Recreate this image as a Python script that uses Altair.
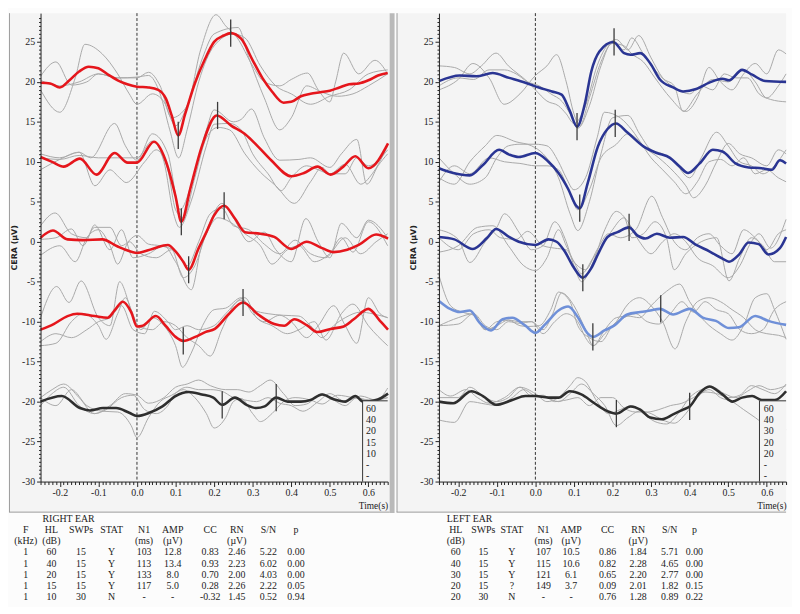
import altair as alt
import pandas as pd

# ---------------- axis domains / layout ----------------
T0, T1 = -0.25, 0.65
V0, V1 = -30.0, 28.6
W, H = 352, 475

# ---------------- RIGHT EAR (left panel) traces: (time s, µV) ----------------
L60_AVG = [(-0.25,19.9),(-0.225,19.8),(-0.2,19.3),(-0.175,20.2),(-0.15,21.3),(-0.125,21.9),(-0.1,21.7),(-0.075,20.9),(-0.05,20.2),(-0.025,19.7),(0.0,19.4),(0.03,19.3),(0.055,19.0),(0.075,17.9),(0.09,15.8),(0.107,13.3),(0.125,16.0),(0.15,19.8),(0.175,22.7),(0.2,25.0),(0.225,25.8),(0.243,26.1),(0.27,25.4),(0.3,22.7),(0.325,20.5),(0.35,18.8),(0.38,17.4),(0.4,17.5),(0.425,18.2),(0.45,18.5),(0.475,18.7),(0.5,18.9),(0.525,19.3),(0.55,19.7),(0.575,19.8),(0.6,20.2),(0.625,20.8),(0.65,21.1)]
L60_G1 = [(-0.25,20.7),(-0.21,22.5),(-0.17,19.6),(-0.13,20.0),(-0.1,21.0),(-0.05,20.5),(0.0,20.5),(0.03,21.2),(0.06,19.5),(0.09,15.5),(0.13,17.0),(0.165,24.0),(0.205,28.4),(0.23,27.0),(0.26,25.5),(0.3,22.0),(0.33,20.0),(0.37,19.5),(0.4,20.3),(0.442,21.1),(0.47,19.0),(0.5,17.5),(0.515,20.0),(0.536,23.6),(0.575,21.0),(0.617,22.7),(0.65,21.0)]
L60_G2 = [(-0.25,19.0),(-0.2,16.2),(-0.16,20.5),(-0.135,24.7),(-0.09,23.5),(-0.05,21.0),(-0.02,18.5),(0.0,17.2),(0.04,18.5),(0.07,17.5),(0.1,14.5),(0.13,17.0),(0.17,23.0),(0.2,26.0),(0.262,26.8),(0.29,23.0),(0.33,18.0),(0.37,14.0),(0.4,15.5),(0.44,19.5),(0.48,18.7),(0.52,18.2),(0.56,18.5),(0.6,19.5),(0.65,21.0)]
L60_G3 = [(-0.25,20.2),(-0.2,19.5),(-0.15,20.0),(-0.1,21.0),(-0.05,20.5),(0.0,20.6),(0.03,20.8),(0.06,18.5),(0.085,14.0),(0.108,10.5),(0.13,14.0),(0.16,20.0),(0.2,24.5),(0.25,26.0),(0.28,25.5),(0.32,22.0),(0.36,19.5),(0.4,18.5),(0.45,17.2),(0.5,18.2),(0.55,19.0),(0.6,21.0),(0.65,21.5)]

L40_AVG = [(-0.25,10.6),(-0.22,10.0),(-0.19,9.4),(-0.148,10.4),(-0.105,8.4),(-0.058,11.1),(-0.024,9.9),(0.0,9.9),(0.044,12.5),(0.074,10.2),(0.1,5.7),(0.115,2.5),(0.138,6.6),(0.168,11.9),(0.207,15.8),(0.245,14.5),(0.279,13.5),(0.314,11.9),(0.348,10.2),(0.4,8.2),(0.433,8.6),(0.468,9.4),(0.502,8.4),(0.535,9.4),(0.566,10.7),(0.6,9.2),(0.651,12.3)]
L40_G1 = [(-0.25,11.0),(-0.2,10.5),(-0.15,11.2),(-0.12,10.5),(-0.058,14.8),(-0.03,12.0),(0.0,10.2),(0.04,13.5),(0.08,11.0),(0.112,4.0),(0.14,7.0),(0.18,14.0),(0.2,16.5),(0.25,15.0),(0.27,15.3),(0.297,16.6),(0.33,13.0),(0.37,10.2),(0.42,10.3),(0.45,10.5),(0.5,9.3),(0.53,11.0),(0.57,12.8),(0.596,7.2),(0.625,9.5),(0.65,11.0)]
L40_G2 = [(-0.25,9.0),(-0.2,10.3),(-0.15,11.2),(-0.109,7.0),(-0.07,9.0),(-0.045,8.0),(-0.028,7.4),(0.02,10.0),(0.05,11.5),(0.08,9.0),(0.1,4.0),(0.12,3.0),(0.15,8.0),(0.18,13.0),(0.21,14.3),(0.24,14.0),(0.28,11.0),(0.32,8.7),(0.36,7.0),(0.408,4.8),(0.45,7.5),(0.48,9.3),(0.5,8.5),(0.54,9.7),(0.58,7.2),(0.61,8.5),(0.65,12.0)]
L40_G3 = [(-0.25,10.5),(-0.2,10.3),(-0.15,10.8),(-0.1,10.5),(-0.05,10.5),(0.0,10.5),(0.04,12.6),(0.07,10.0),(0.095,3.5),(0.11,1.8),(0.14,5.0),(0.18,12.0),(0.2,14.7),(0.24,14.8),(0.27,14.0),(0.3,11.0),(0.34,8.5),(0.374,6.4),(0.4,8.0),(0.44,9.5),(0.47,9.0),(0.5,8.5),(0.54,8.5),(0.57,10.5),(0.6,9.5),(0.65,11.5)]

L20_AVG = [(-0.25,0.5),(-0.218,1.4),(-0.18,0.3),(-0.14,0.2),(-0.09,0.3),(-0.05,-0.6),(-0.03,-1.0),(0.0,-1.4),(0.04,-0.9),(0.08,-0.4),(0.1,-1.2),(0.12,-2.5),(0.134,-3.5),(0.16,-0.8),(0.18,1.2),(0.2,3.3),(0.226,4.5),(0.254,2.9),(0.28,1.2),(0.32,1.0),(0.356,0.6),(0.4,-0.9),(0.44,0.0),(0.48,-0.8),(0.51,-1.3),(0.545,-1.0),(0.575,-0.4),(0.62,0.9),(0.651,0.4)]
L20_G1 = [(-0.25,2.0),(-0.212,3.6),(-0.17,1.0),(-0.13,0.5),(-0.11,2.1),(-0.07,-1.0),(-0.04,1.5),(-0.01,-2.0),(0.03,-1.5),(0.07,-0.5),(0.1,-2.5),(0.141,-6.0),(0.165,-1.0),(0.19,2.5),(0.22,4.8),(0.25,3.0),(0.29,0.0),(0.33,1.2),(0.36,-1.0),(0.4,-2.5),(0.438,2.9),(0.47,0.0),(0.5,-2.0),(0.53,2.3),(0.57,0.5),(0.6,2.7),(0.65,0.5)]
L20_G2 = [(-0.25,-1.7),(-0.2,-0.5),(-0.16,-2.5),(-0.13,0.5),(-0.1,1.5),(-0.07,-0.5),(-0.05,-2.8),(-0.02,0.0),(0.01,-1.5),(0.05,-2.0),(0.09,-1.0),(0.12,-4.5),(0.15,-3.0),(0.18,1.0),(0.21,3.0),(0.24,2.5),(0.28,1.0),(0.32,-0.5),(0.35,-2.8),(0.39,-1.0),(0.42,-0.5),(0.46,-2.5),(0.5,-1.5),(0.54,0.5),(0.58,-1.5),(0.62,0.0),(0.65,1.0)]
L20_G3 = [(-0.25,0.3),(-0.21,0.5),(-0.17,1.6),(-0.14,-0.5),(-0.11,1.8),(-0.07,1.8),(-0.04,-0.5),(0.0,0.8),(0.03,-0.3),(0.06,-0.5),(0.1,-1.2),(0.13,-3.0),(0.16,0.0),(0.19,3.5),(0.22,4.2),(0.25,2.0),(0.29,1.5),(0.33,-0.3),(0.37,-1.5),(0.41,0.2),(0.45,-1.5),(0.49,-2.0),(0.53,0.5),(0.56,-1.3),(0.6,2.5),(0.65,-0.5)]

L15_AVG = [(-0.25,-11.0),(-0.216,-10.3),(-0.18,-9.3),(-0.155,-9.0),(-0.11,-9.3),(-0.076,-9.5),(-0.058,-8.6),(-0.037,-7.5),(-0.015,-8.8),(0.0,-10.6),(0.015,-10.5),(0.049,-9.3),(0.074,-10.5),(0.1,-11.9),(0.12,-12.4),(0.151,-11.9),(0.177,-11.3),(0.202,-10.9),(0.237,-9.1),(0.275,-7.6),(0.314,-9.1),(0.356,-10.3),(0.382,-10.5),(0.408,-9.7),(0.442,-10.5),(0.468,-11.3),(0.502,-10.9),(0.536,-10.6),(0.562,-9.7),(0.6,-8.4),(0.63,-9.9),(0.651,-11.0)]
L15_G1 = [(-0.25,-9.5),(-0.208,-5.6),(-0.176,-7.6),(-0.145,-4.9),(-0.1,-9.5),(-0.07,-10.5),(-0.045,-5.0),(-0.015,-8.5),(0.01,-11.0),(0.04,-9.5),(0.07,-10.5),(0.1,-13.0),(0.118,-15.7),(0.14,-14.0),(0.17,-10.5),(0.2,-8.5),(0.23,-8.3),(0.27,-7.0),(0.3,-9.0),(0.33,-10.0),(0.37,-9.2),(0.4,-10.0),(0.44,-12.0),(0.47,-10.5),(0.51,-8.0),(0.54,-10.5),(0.57,-12.7),(0.6,-7.0),(0.63,-9.0),(0.65,-9.5)]
L15_G2 = [(-0.25,-13.0),(-0.21,-12.7),(-0.17,-10.0),(-0.14,-9.0),(-0.1,-10.5),(-0.08,-12.2),(-0.05,-9.0),(-0.03,-7.0),(0.0,-10.5),(0.04,-11.0),(0.07,-10.0),(0.1,-10.5),(0.13,-12.0),(0.16,-13.0),(0.19,-14.3),(0.22,-11.0),(0.25,-8.0),(0.28,-7.0),(0.31,-9.5),(0.35,-10.5),(0.39,-11.5),(0.42,-11.0),(0.46,-10.0),(0.49,-12.3),(0.53,-9.0),(0.56,-7.8),(0.6,-10.5),(0.65,-13.0)]
L15_G3 = [(-0.25,-12.5),(-0.21,-11.5),(-0.17,-12.0),(-0.13,-11.0),(-0.1,-10.0),(-0.07,-9.5),(-0.04,-8.0),(-0.01,-11.0),(0.02,-11.5),(0.045,-8.7),(0.08,-10.0),(0.1,-11.0),(0.13,-10.5),(0.16,-11.0),(0.2,-10.5),(0.23,-9.0),(0.27,-7.3),(0.3,-8.5),(0.34,-9.0),(0.38,-9.2),(0.42,-9.3),(0.45,-10.5),(0.48,-12.0),(0.51,-10.5),(0.54,-9.5),(0.58,-8.8),(0.61,-9.0),(0.65,-9.5)]

L10_AVG = [(-0.25,-20.0),(-0.195,-19.3),(-0.148,-20.8),(-0.122,-21.1),(-0.088,-20.8),(-0.054,-20.8),(-0.02,-21.4),(0.0,-21.8),(0.032,-21.4),(0.066,-20.6),(0.1,-19.3),(0.134,-18.8),(0.168,-19.1),(0.198,-19.5),(0.221,-20.4),(0.254,-19.5),(0.284,-20.4),(0.309,-20.8),(0.331,-20.6),(0.361,-19.5),(0.391,-20.0),(0.425,-20.0),(0.45,-19.8),(0.48,-19.1),(0.51,-19.7),(0.54,-20.0),(0.566,-19.3),(0.587,-20.0),(0.621,-19.8),(0.651,-19.0)]
L10_G1 = [(-0.25,-19.5),(-0.22,-18.5),(-0.19,-17.8),(-0.15,-19.5),(-0.11,-21.5),(-0.07,-20.5),(-0.03,-19.0),(0.0,-19.2),(0.03,-20.2),(0.07,-19.5),(0.1,-18.2),(0.13,-17.8),(0.16,-17.3),(0.19,-18.0),(0.23,-18.5),(0.26,-18.5),(0.29,-18.8),(0.32,-18.0),(0.345,-17.3),(0.38,-19.0),(0.41,-20.5),(0.44,-20.3),(0.48,-19.0),(0.51,-19.8),(0.54,-20.5),(0.57,-19.5),(0.6,-19.8),(0.63,-19.5),(0.65,-18.3)]
L10_G2 = [(-0.25,-19.5),(-0.21,-20.5),(-0.17,-18.5),(-0.13,-20.5),(-0.09,-21.2),(-0.05,-21.3),(-0.015,-23.0),(0.0,-24.5),(0.03,-22.0),(0.06,-20.0),(0.09,-19.2),(0.12,-18.5),(0.15,-19.5),(0.18,-21.5),(0.2,-23.3),(0.23,-22.0),(0.25,-20.0),(0.27,-19.6),(0.3,-21.5),(0.32,-22.5),(0.35,-21.5),(0.38,-20.0),(0.41,-19.5),(0.45,-19.8),(0.48,-20.3),(0.52,-19.2),(0.56,-19.5),(0.6,-19.8),(0.65,-19.5)]
L10_G3 = [(-0.25,-20.5),(-0.22,-19.0),(-0.19,-18.2),(-0.15,-20.5),(-0.11,-21.5),(-0.08,-21.0),(-0.04,-19.5),(-0.01,-19.2),(0.02,-21.0),(0.05,-21.5),(0.08,-20.5),(0.1,-19.0),(0.13,-18.2),(0.16,-18.5),(0.19,-18.5),(0.22,-18.7),(0.25,-19.5),(0.28,-19.8),(0.31,-20.0),(0.34,-19.5),(0.37,-20.2),(0.4,-20.5),(0.43,-21.2),(0.47,-20.0),(0.5,-19.0),(0.54,-20.0),(0.58,-19.3),(0.62,-19.8),(0.65,-19.5)]

# ---------------- LEFT EAR (right panel) traces ----------------
R60_AVG = [(-0.25,20.1),(-0.196,20.8),(-0.153,20.7),(-0.111,21.1),(-0.068,20.5),(-0.026,19.9),(0.009,19.3),(0.043,18.8),(0.068,18.4),(0.089,16.4),(0.108,14.4),(0.128,17.2),(0.145,21.3),(0.166,23.8),(0.202,25.0),(0.23,23.6),(0.247,23.4),(0.272,23.6),(0.298,22.3),(0.323,20.3),(0.357,19.3),(0.383,18.8),(0.417,19.1),(0.451,19.9),(0.485,20.4),(0.502,20.2),(0.536,21.5),(0.562,20.9),(0.596,20.1),(0.65,20.0)]
R60_G1 = [(-0.25,22.0),(-0.21,21.8),(-0.17,21.0),(-0.14,22.0),(-0.102,23.6),(-0.07,22.0),(-0.02,20.0),(0.0,19.0),(0.03,17.6),(0.06,17.0),(0.08,16.0),(0.1,14.8),(0.13,17.0),(0.16,22.0),(0.19,24.8),(0.21,25.3),(0.24,24.0),(0.268,25.8),(0.3,23.0),(0.33,20.5),(0.36,19.5),(0.383,16.3),(0.42,18.5),(0.46,20.3),(0.5,20.0),(0.54,21.5),(0.57,20.0),(0.6,18.0),(0.63,19.5),(0.65,21.0)]
R60_G2 = [(-0.25,19.0),(-0.2,20.3),(-0.162,22.3),(-0.12,20.5),(-0.081,17.2),(-0.04,18.5),(0.0,20.8),(0.03,22.0),(0.055,23.4),(0.08,20.0),(0.1,16.0),(0.115,14.5),(0.14,18.0),(0.17,22.5),(0.2,24.8),(0.23,24.5),(0.25,23.5),(0.28,22.5),(0.31,20.5),(0.35,18.0),(0.39,16.3),(0.42,18.0),(0.45,21.8),(0.48,20.0),(0.51,19.0),(0.54,21.0),(0.57,22.3),(0.6,21.0),(0.63,24.0),(0.65,23.5)]
R60_G3 = [(-0.25,19.5),(-0.2,20.5),(-0.16,20.3),(-0.12,21.5),(-0.08,21.5),(-0.05,21.0),(-0.02,20.0),(0.01,19.5),(0.04,18.5),(0.07,17.5),(0.09,16.0),(0.11,14.2),(0.14,17.0),(0.17,22.0),(0.2,25.0),(0.23,24.0),(0.25,25.5),(0.28,23.5),(0.31,21.5),(0.34,20.0),(0.37,19.0),(0.4,18.5),(0.43,19.5),(0.46,19.0),(0.49,21.0),(0.52,20.5),(0.55,20.5),(0.58,18.5),(0.61,17.8),(0.65,17.5)]

R40_AVG = [(-0.25,9.2),(-0.213,8.6),(-0.17,8.3),(-0.136,9.6),(-0.094,11.5),(-0.068,10.9),(-0.043,10.6),(0.0,11.1),(0.034,10.0),(0.06,8.6),(0.085,6.6),(0.106,4.5),(0.115,4.2),(0.136,7.4),(0.162,11.9),(0.187,14.1),(0.209,14.8),(0.238,13.7),(0.281,11.9),(0.315,11.1),(0.349,10.5),(0.374,9.4),(0.396,8.6),(0.426,9.8),(0.46,11.5),(0.485,11.3),(0.519,9.8),(0.553,9.3),(0.587,9.2),(0.613,9.0),(0.634,10.2),(0.65,9.8)]
R40_G1 = [(-0.25,10.5),(-0.21,8.5),(-0.17,7.2),(-0.13,8.0),(-0.1,10.5),(-0.07,12.0),(-0.04,12.2),(0.0,12.2),(0.03,12.0),(0.06,10.0),(0.08,8.0),(0.1,6.5),(0.13,8.0),(0.16,13.0),(0.179,16.2),(0.22,15.5),(0.25,14.0),(0.28,12.0),(0.32,10.5),(0.36,8.7),(0.39,7.0),(0.41,5.5),(0.44,7.0),(0.47,10.0),(0.5,12.3),(0.53,11.0),(0.56,10.5),(0.6,9.5),(0.63,11.5),(0.65,11.0)]
R40_G2 = [(-0.25,8.0),(-0.21,7.2),(-0.17,10.0),(-0.13,12.0),(-0.1,13.3),(-0.05,12.5),(-0.01,12.0),(0.02,11.0),(0.06,8.0),(0.09,3.5),(0.11,1.4),(0.14,5.0),(0.17,11.0),(0.2,15.5),(0.24,15.8),(0.27,13.5),(0.3,11.5),(0.33,11.0),(0.36,10.0),(0.4,8.0),(0.43,10.5),(0.47,13.7),(0.5,12.0),(0.53,10.0),(0.56,9.5),(0.59,8.5),(0.62,9.5),(0.65,11.5)]
R40_G3 = [(-0.25,7.5),(-0.21,9.5),(-0.17,8.5),(-0.12,10.5),(-0.08,10.0),(-0.04,9.8),(0.0,9.5),(0.03,9.5),(0.06,9.0),(0.09,6.0),(0.11,4.0),(0.14,6.5),(0.17,10.5),(0.21,12.2),(0.24,13.5),(0.27,12.5),(0.3,10.5),(0.33,9.0),(0.36,7.5),(0.39,6.0),(0.42,7.5),(0.45,10.0),(0.48,10.3),(0.51,9.5),(0.54,10.5),(0.57,8.5),(0.6,9.0),(0.63,8.0),(0.65,7.5)]

R30_AVG = [(-0.25,0.6),(-0.21,0.3),(-0.162,-0.9),(-0.125,0.5),(-0.102,1.6),(-0.068,0.6),(-0.043,0.0),(0.0,-0.4),(0.034,0.3),(0.055,0.0),(0.076,-1.2),(0.098,-3.1),(0.123,-4.5),(0.145,-3.3),(0.162,-1.6),(0.187,0.6),(0.213,1.2),(0.243,1.8),(0.264,0.8),(0.285,0.4),(0.315,1.0),(0.349,0.5),(0.383,0.6),(0.417,-0.4),(0.451,-1.2),(0.485,-2.1),(0.502,-2.5),(0.528,-1.6),(0.553,-0.1),(0.579,-0.3),(0.604,-1.6),(0.634,-0.8),(0.65,0.6)]
R30_G1 = [(-0.25,1.5),(-0.2,0.3),(-0.17,-2.6),(-0.13,0.0),(-0.1,1.8),(-0.08,3.5),(-0.04,1.0),(-0.01,-1.0),(0.02,-0.5),(0.05,2.5),(0.08,0.0),(0.1,-3.0),(0.12,-5.0),(0.15,-2.5),(0.18,1.5),(0.21,3.8),(0.24,2.5),(0.27,0.0),(0.3,-1.5),(0.33,0.0),(0.36,1.0),(0.39,0.0),(0.42,-2.0),(0.46,-3.0),(0.5,-4.5),(0.53,-3.0),(0.56,0.0),(0.58,1.0),(0.61,-0.8),(0.65,2.8)]
R30_G2 = [(-0.25,-1.3),(-0.2,-0.5),(-0.15,1.8),(-0.11,2.0),(-0.07,-0.5),(-0.03,-3.0),(0.0,-3.6),(0.03,-2.0),(0.06,1.5),(0.08,-0.5),(0.1,-2.5),(0.12,-4.0),(0.15,-2.0),(0.18,0.0),(0.2,1.5),(0.23,3.0),(0.25,0.5),(0.28,1.0),(0.31,2.5),(0.34,0.5),(0.36,-3.5),(0.39,-1.5),(0.43,0.0),(0.47,0.5),(0.502,-4.9),(0.53,-2.0),(0.56,0.5),(0.59,-0.5),(0.62,-2.5),(0.65,-2.5)]
R30_G3 = [(-0.25,0.5),(-0.2,-1.0),(-0.16,1.0),(-0.12,1.5),(-0.09,0.5),(-0.05,0.3),(-0.02,1.3),(0.02,-0.5),(0.05,-0.8),(0.08,-1.0),(0.1,-2.5),(0.13,-3.5),(0.16,-1.0),(0.19,1.0),(0.22,0.5),(0.26,1.5),(0.302,5.7),(0.33,3.0),(0.36,0.0),(0.39,-1.0),(0.42,0.5),(0.45,1.0),(0.48,-0.5),(0.51,-1.5),(0.54,1.5),(0.57,0.5),(0.6,-1.0),(0.63,1.0),(0.65,1.5)]

R20_AVG = [(-0.25,-7.4),(-0.221,-8.4),(-0.196,-8.8),(-0.17,-8.6),(-0.145,-10.1),(-0.115,-11.1),(-0.085,-9.7),(-0.06,-9.5),(-0.026,-10.5),(0.0,-11.4),(0.026,-10.3),(0.06,-8.6),(0.085,-8.1),(0.111,-9.5),(0.136,-11.5),(0.149,-11.9),(0.179,-11.1),(0.204,-10.5),(0.238,-9.1),(0.272,-8.8),(0.298,-8.6),(0.323,-8.4),(0.357,-9.1),(0.4,-8.4),(0.434,-9.5),(0.468,-9.9),(0.502,-10.8),(0.528,-10.7),(0.57,-9.3),(0.604,-9.9),(0.65,-10.4)]
R20_G1 = [(-0.25,-4.2),(-0.22,-8.0),(-0.19,-8.8),(-0.16,-9.2),(-0.13,-11.0),(-0.1,-10.5),(-0.07,-9.8),(-0.04,-10.0),(-0.01,-10.0),(0.02,-11.0),(0.045,-9.0),(0.068,-6.4),(0.1,-8.0),(0.13,-11.0),(0.15,-13.0),(0.18,-11.5),(0.21,-10.0),(0.24,-7.8),(0.27,-7.0),(0.3,-8.0),(0.33,-10.0),(0.362,-13.4),(0.39,-10.0),(0.42,-7.5),(0.45,-7.0),(0.48,-7.5),(0.51,-8.5),(0.54,-9.5),(0.57,-11.0),(0.6,-11.5),(0.63,-11.7),(0.65,-12.0)]
R20_G2 = [(-0.25,-10.5),(-0.2,-10.3),(-0.16,-9.0),(-0.13,-10.5),(-0.1,-11.0),(-0.07,-10.0),(-0.04,-10.2),(-0.01,-10.0),(0.02,-11.5),(0.05,-10.0),(0.08,-9.0),(0.11,-10.0),(0.13,-12.0),(0.15,-13.0),(0.18,-11.0),(0.21,-9.5),(0.24,-9.3),(0.27,-9.5),(0.3,-8.0),(0.34,-6.2),(0.374,-5.3),(0.4,-7.5),(0.44,-10.0),(0.48,-11.5),(0.51,-12.3),(0.54,-10.5),(0.57,-7.0),(0.6,-6.5),(0.62,-8.5),(0.65,-12.2)]
R20_G3 = [(-0.25,-10.5),(-0.2,-9.5),(-0.16,-9.0),(-0.13,-11.0),(-0.1,-10.0),(-0.07,-9.8),(-0.04,-10.5),(-0.02,-10.6),(0.01,-10.5),(0.04,-8.5),(0.06,-6.3),(0.09,-7.5),(0.11,-10.5),(0.14,-12.0),(0.17,-12.5),(0.2,-10.5),(0.23,-9.5),(0.26,-9.0),(0.29,-10.0),(0.32,-10.3),(0.35,-9.0),(0.38,-7.5),(0.41,-8.8),(0.44,-7.5),(0.47,-8.5),(0.5,-9.0),(0.53,-11.0),(0.56,-11.5),(0.59,-11.0),(0.62,-8.5),(0.65,-7.5)]

R20N_AVG = [(-0.25,-20.0),(-0.213,-20.2),(-0.166,-18.7),(-0.136,-19.3),(-0.102,-20.4),(-0.06,-19.8),(-0.026,-19.3),(0.0,-19.3),(0.034,-19.5),(0.06,-19.5),(0.089,-18.7),(0.119,-19.1),(0.153,-20.2),(0.187,-21.2),(0.21,-21.5),(0.247,-20.6),(0.272,-21.0),(0.298,-22.0),(0.328,-22.2),(0.357,-21.6),(0.383,-21.0),(0.4,-20.6),(0.426,-18.9),(0.451,-18.1),(0.485,-19.1),(0.511,-20.0),(0.536,-19.5),(0.562,-19.3),(0.587,-19.8),(0.621,-19.8),(0.65,-18.7)]
R20N_G1 = [(-0.25,-22.3),(-0.21,-22.6),(-0.17,-20.0),(-0.13,-20.3),(-0.1,-20.5),(-0.06,-19.5),(-0.03,-18.5),(0.0,-19.3),(0.03,-19.5),(0.06,-20.0),(0.09,-19.0),(0.12,-17.8),(0.15,-19.0),(0.18,-20.5),(0.21,-23.0),(0.24,-22.0),(0.27,-21.2),(0.3,-21.5),(0.33,-22.3),(0.36,-22.7),(0.39,-21.5),(0.42,-19.5),(0.45,-18.5),(0.48,-19.5),(0.51,-20.0),(0.54,-21.0),(0.57,-22.0),(0.6,-23.0),(0.65,-23.5)]
R20N_G2 = [(-0.25,-18.5),(-0.22,-19.3),(-0.18,-18.5),(-0.15,-19.5),(-0.12,-20.2),(-0.08,-19.5),(-0.04,-18.2),(0.0,-19.0),(0.03,-20.0),(0.06,-19.5),(0.09,-18.0),(0.11,-17.0),(0.13,-17.5),(0.16,-20.0),(0.19,-21.5),(0.22,-21.0),(0.25,-20.5),(0.28,-21.5),(0.31,-22.5),(0.34,-22.8),(0.37,-21.5),(0.4,-19.5),(0.43,-18.5),(0.46,-18.2),(0.49,-19.0),(0.52,-19.5),(0.55,-18.7),(0.58,-18.0),(0.61,-18.5),(0.65,-18.0)]
R20N_G3 = [(-0.25,-19.5),(-0.2,-19.5),(-0.17,-18.2),(-0.13,-19.5),(-0.1,-20.0),(-0.07,-19.5),(-0.04,-18.2),(-0.01,-19.3),(0.02,-19.2),(0.05,-20.0),(0.08,-19.8),(0.11,-19.5),(0.14,-20.5),(0.17,-19.5),(0.2,-19.5),(0.23,-20.8),(0.26,-21.3),(0.29,-21.3),(0.32,-21.0),(0.35,-20.5),(0.38,-20.2),(0.41,-19.5),(0.44,-18.8),(0.47,-19.0),(0.5,-19.5),(0.53,-19.2),(0.56,-18.0),(0.59,-18.5),(0.62,-19.0),(0.65,-17.8)]

# peak markers (time, µV)
L_MARKS = [(0.107,13.3),(0.243,26.1),(0.115,2.5),(0.209,15.8),(0.134,-3.5),(0.226,4.5),(0.12,-12.4),(0.275,-7.6),(0.221,-20.4),(0.361,-19.5)]
R_MARKS = [(0.108,14.4),(0.204,25.0),(0.115,4.2),(0.207,14.8),(0.123,-4.5),(0.243,1.8),(0.149,-11.9),(0.325,-8.4),(0.21,-21.5),(0.4,-20.6)]

# ---------------- tables ----------------
HEAD1 = ["F", "HL", "SWPs", "STAT", "N1", "AMP", "CC", "RN", "S/N", "p"]
HEAD2 = ["(kHz)", "(dB)", "", "", "(ms)", "(\u00b5V)", "", "(\u00b5V)", "", ""]

R_F = ["1", "1", "1", "1", "1"]
R_HL = ["60", "40", "20", "15", "10"]
R_SWPS = ["15", "15", "15", "15", "30"]
R_STAT = ["Y", "Y", "Y", "Y", "N"]
R_N1 = ["103", "113", "133", "117", "-"]
R_AMP = ["12.8", "13.4", "8.0", "5.0", "-"]
R_CC = ["0.83", "0.93", "0.70", "0.28", "-0.32"]
R_RN = ["2.46", "2.23", "2.00", "2.26", "1.45"]
R_SN = ["5.22", "6.02", "4.03", "2.22", "0.52"]
R_P = ["0.00", "0.00", "0.00", "0.05", "0.94"]

L_HL = ["60", "40", "30", "20", "20"]
L_SWPS = ["15", "15", "15", "15", "30"]
L_STAT = ["Y", "Y", "Y", "?", "N"]
L_N1 = ["107", "115", "121", "149", "-"]
L_AMP = ["10.5", "10.6", "6.1", "3.7", "-"]
L_CC = ["0.86", "0.82", "0.65", "0.09", "0.76"]
L_RN = ["1.84", "2.28", "2.20", "2.01", "1.28"]
L_SN = ["5.71", "4.65", "2.77", "1.82", "0.89"]
L_P = ["0.00", "0.00", "0.00", "0.15", "0.22"]

# ---------------- styling / layout config ----------------
RED = "#e5161c"
DBLUE = "#2a3593"
LBLUE = "#6f90d8"
BLACK = "#2e2e2e"
GRAY = "#a9a9a9"
PANEL_BG = "#f4f4f4"
PAGE_BG = "#fcfcfc"
FRAME = "#9c9c9c"
SERIF = "Liberation Serif"

# pixel positions of table columns relative to plot-area left edge
LEFT_COLX = {"F": -15, "HL": 11, "SWPs": 41, "STAT": 72, "N1": 105, "AMP": 134, "CC": 172, "RN": 199, "S/N": 231, "p": 259}
RIGHT_COLX = {"HL": 17, "SWPs": 45, "STAT": 74, "N1": 106, "AMP": 134, "CC": 171, "RN": 202, "S/N": 234, "p": 259}
ROW_Y0, ROW_STEP = 513, 11.3
FRAME_BOTTOM = 506

X_TICKS = [round(-0.25 + 0.01 * i, 2) for i in range(91)]
Y_TICKS = [-30 + 0.5 * i for i in range(117)]
XMAJ = "abs(round(datum.value*100)) % 10 == 0"
YMAJ = "datum.value % 5 == 0"


def xenc(field):
    return alt.X(
        f"{field}:Q",
        scale=alt.Scale(domain=[T0, T1], nice=False, zero=False),
        title="Time(s)",
        axis=alt.Axis(
            values=X_TICKS,
            labelExpr=f"{XMAJ} ? replace(format(datum.value, '.1f'), '\u2212', '-') : ''",
            tickSize={"condition": {"test": XMAJ, "value": 5}, "value": 3},
            tickColor="#222", domainColor="#222", labelColor="#222",
            labelFont=SERIF, labelFontSize=10, labelPadding=1,
            labelOverlap=False, labelFlush=False, grid=False, zindex=1,
            titleFont=SERIF, titleFontSize=9.5, titleFontWeight="normal",
            titleColor="#222", titleAnchor="end", titleAlign="right", titlePadding=3,
        ),
    )


def yenc(field):
    return alt.Y(
        f"{field}:Q",
        scale=alt.Scale(domain=[V0, V1], nice=False, zero=False),
        title="CERA (\u00b5V)",
        axis=alt.Axis(
            values=Y_TICKS,
            labelExpr=f"{YMAJ} ? replace(format(datum.value, 'd'), '\u2212', '-') : ''",
            tickSize={"condition": {"test": YMAJ, "value": 4}, "value": 2},
            tickColor="#222", domainColor="#222", labelColor="#222",
            labelFont=SERIF, labelFontSize=10, labelPadding=2,
            labelOverlap=False, grid=False, zindex=1,
            minExtent=20, maxExtent=20,
            titleFont="DejaVu Sans", titleFontSize=8, titleFontWeight="bold",
            titleColor="#222", titlePadding=2,
        ),
    )


ID = alt.Scale(domain=[0, 100], range=[0, 100], nice=False, zero=False)


def lines_df(named):
    rows = []
    for name, pts in named:
        for t, v in pts:
            rows.append({"trace": name, "t": t, "v": v})
    return pd.DataFrame(rows)


def panel(grays, avgs, avg_colors, marks, leg_labels, leg_line_t, leg_text_t,
          colx, cols, ear_title, frame_l, frame_r, frame_rects, frame_lines):
    gray_df = lines_df(grays)
    mark_df = pd.DataFrame([{"t": t, "lo": v - 1.7, "hi": v + 1.7} for t, v in marks])
    zero_df = pd.DataFrame({"t": [0.0]})
    box_df = pd.DataFrame({"a": [leg_line_t], "b": [T1], "lo": [V0], "hi": [-19.9]})
    vline_df = pd.DataFrame({"t": [leg_line_t], "lo": [V0], "hi": [-19.9]})
    hline_df = pd.DataFrame({"a": [leg_line_t], "b": [T1], "v": [-19.9]})
    leg_df = pd.DataFrame({"lab": leg_labels,
                           "t": [leg_text_t] * len(leg_labels),
                           "v": [-20.9 - 1.41 * i for i in range(len(leg_labels))]})

    zero = alt.Chart(zero_df).mark_rule(color="#333", strokeWidth=1, strokeDash=[3, 2]).encode(x=xenc("t"))
    g = alt.Chart(gray_df).mark_line(color=GRAY, strokeWidth=1, interpolate="monotone").encode(
        x=xenc("t"), y=yenc("v"), detail="trace:N")
    avg_layers = []
    for (name, pts), col in zip(avgs, avg_colors):
        avg_layers.append(
            alt.Chart(lines_df([(name, pts)])).mark_line(color=col, strokeWidth=2.6, interpolate="monotone").encode(
                x=xenc("t"), y=yenc("v")))
    m = alt.Chart(mark_df).mark_rule(color="#3a3a3a", strokeWidth=1.3).encode(
        x=xenc("t"), y=yenc("lo"), y2="hi")
    box = alt.Chart(box_df).mark_rect(fill=PANEL_BG).encode(x=xenc("a"), x2="b", y=yenc("lo"), y2="hi")
    vl = alt.Chart(vline_df).mark_rule(color="#333", strokeWidth=1).encode(x=xenc("t"), y=yenc("lo"), y2="hi")
    hl = alt.Chart(hline_df).mark_rule(color="#333", strokeWidth=1).encode(x=xenc("a"), x2="b", y=yenc("v"))
    lt = alt.Chart(leg_df).mark_text(align="left", baseline="middle", font=SERIF, fontSize=10, color="#222").encode(
        x=xenc("t"), y=yenc("v"), text="lab:N")
    wave = alt.layer(zero, g, *avg_layers, m, box, vl, hl, lt)

    # frame (background, separator bar, border lines), identity pixel scales
    bg_df = pd.DataFrame([{"x": frame_l, "x2": frame_r, "y": 0, "y2": FRAME_BOTTOM, "c": PANEL_BG}] + frame_rects)
    bg = alt.Chart(bg_df).mark_rect().encode(
        x=alt.X("x:Q", scale=ID, axis=None), x2="x2", y=alt.Y("y:Q", scale=ID, axis=None), y2="y2",
        fill=alt.Fill("c:N", scale=None))
    fl_df = pd.DataFrame(frame_lines)
    fl = alt.Chart(fl_df).mark_rule(color=FRAME, strokeWidth=1).encode(
        x=alt.X("x:Q", scale=ID, axis=None), x2="x2", y=alt.Y("y:Q", scale=ID, axis=None), y2="y2")

    # table text
    rows = []
    for j, c in enumerate(HEAD1):
        if c in colx:
            rows.append({"px": colx[c], "py": ROW_Y0 + ROW_STEP * 1, "txt": c})
            rows.append({"px": colx[c], "py": ROW_Y0 + ROW_STEP * 2, "txt": HEAD2[j]})
    for c, vals in cols:
        for i, v in enumerate(vals):
            rows.append({"px": colx[c], "py": ROW_Y0 + ROW_STEP * (3 + i), "txt": v})
    tab_df = pd.DataFrame(rows)
    tab = alt.Chart(tab_df).mark_text(font=SERIF, fontSize=10, color="#222", baseline="middle").encode(
        x=alt.X("px:Q", scale=ID, axis=None), y=alt.Y("py:Q", scale=ID, axis=None), text="txt:N")
    ttl_df = pd.DataFrame({"px": [colx["HL"] - 9], "py": [ROW_Y0], "txt": [ear_title]})
    ttl = alt.Chart(ttl_df).mark_text(font=SERIF, fontSize=10, color="#222", align="left", baseline="middle").encode(
        x=alt.X("px:Q", scale=ID, axis=None), y=alt.Y("py:Q", scale=ID, axis=None), text="txt:N")
    deco_top = alt.layer(fl, tab, ttl)

    return alt.layer(bg, wave, deco_top).resolve_scale(x="independent", y="independent").properties(
        width=W, height=H)


left = panel(
    grays=[("g60a", L60_G1), ("g60b", L60_G2), ("g60c", L60_G3),
           ("g40a", L40_G1), ("g40b", L40_G2), ("g40c", L40_G3),
           ("g20a", L20_G1), ("g20b", L20_G2), ("g20c", L20_G3),
           ("g15a", L15_G1), ("g15b", L15_G2), ("g15c", L15_G3),
           ("g10a", L10_G1), ("g10b", L10_G2), ("g10c", L10_G3)],
    avgs=[("a60", L60_AVG), ("a40", L40_AVG), ("a20", L20_AVG), ("a15", L15_AVG), ("a10", L10_AVG)],
    avg_colors=[RED, RED, RED, RED, BLACK],
    marks=L_MARKS,
    leg_labels=R_HL + ["-", "-"],
    leg_line_t=0.585, leg_text_t=0.594,
    colx=LEFT_COLX,
    cols=[("F", R_F), ("HL", R_HL), ("SWPs", R_SWPS), ("STAT", R_STAT), ("N1", R_N1),
          ("AMP", R_AMP), ("CC", R_CC), ("RN", R_RN), ("S/N", R_SN), ("p", R_P)],
    ear_title="RIGHT EAR",
    frame_l=-32, frame_r=354,
    frame_rects=[{"x": 354, "x2": 359, "y": 0, "y2": FRAME_BOTTOM + 1, "c": "#b9b9b9"}],
    frame_lines=[{"x": -31.5, "x2": -31.5, "y": 0, "y2": FRAME_BOTTOM},
                 {"x": -32, "x2": 354, "y": FRAME_BOTTOM, "y2": FRAME_BOTTOM}],
)

right = panel(
    grays=[("g60a", R60_G1), ("g60b", R60_G2), ("g60c", R60_G3),
           ("g40a", R40_G1), ("g40b", R40_G2), ("g40c", R40_G3),
           ("g30a", R30_G1), ("g30b", R30_G2), ("g30c", R30_G3),
           ("g20a", R20_G1), ("g20b", R20_G2), ("g20c", R20_G3),
           ("g20na", R20N_G1), ("g20nb", R20N_G2), ("g20nc", R20N_G3)],
    avgs=[("a60", R60_AVG), ("a40", R40_AVG), ("a30", R30_AVG), ("a20", R20_AVG), ("a20n", R20N_AVG)],
    avg_colors=[DBLUE, DBLUE, DBLUE, LBLUE, BLACK],
    marks=R_MARKS,
    leg_labels=L_HL + ["-", "-"],
    leg_line_t=0.581, leg_text_t=0.592,
    colx=RIGHT_COLX,
    cols=[("HL", L_HL), ("SWPs", L_SWPS), ("STAT", L_STAT), ("N1", L_N1),
          ("AMP", L_AMP), ("CC", L_CC), ("RN", L_RN), ("S/N", L_SN), ("p", L_P)],
    ear_title="LEFT EAR",
    frame_l=-43, frame_r=352,
    frame_rects=[],
    frame_lines=[{"x": -42.5, "x2": -42.5, "y": 0, "y2": FRAME_BOTTOM},
                 {"x": -43, "x2": 352, "y": FRAME_BOTTOM, "y2": FRAME_BOTTOM}],
)

chart = alt.hconcat(left, right, spacing=1).properties(
    padding=0, background=PAGE_BG
).configure_view(stroke=None)

chart.save("out.html", embed_options={"renderer": "svg", "actions": False})
